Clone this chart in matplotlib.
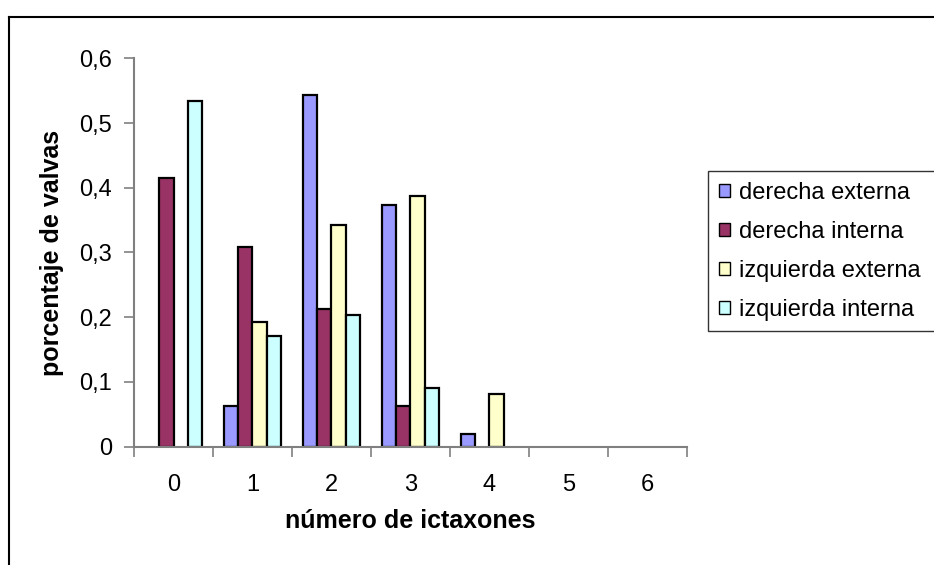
import numpy as np
import matplotlib
matplotlib.use("Agg")
import matplotlib.pyplot as plt
from matplotlib.lines import Line2D
from matplotlib.ticker import FixedLocator, FuncFormatter

plt.rcParams['font.family'] = ['Liberation Sans', 'DejaVu Sans']

categorias = ['0', '1', '2', '3', '4', '5', '6']
series = ['derecha externa', 'derecha interna', 'izquierda externa', 'izquierda interna']
derecha_externa = [0.0, 0.063, 0.544, 0.373, 0.020, 0.0, 0.0]
derecha_interna = [0.415, 0.309, 0.213, 0.063, 0.0, 0.0, 0.0]
izquierda_externa = [0.0, 0.192, 0.343, 0.388, 0.081, 0.0, 0.0]
izquierda_interna = [0.534, 0.171, 0.204, 0.090, 0.0, 0.0, 0.0]
colores = ['#9999FF', '#993366', '#FFFFCC', '#CCFFFF']

valores = [derecha_externa, derecha_interna, izquierda_externa, izquierda_interna]

fig = plt.figure(figsize=(9.34, 5.65), dpi=100)
ax = fig.add_axes([0.1435, 0.2094, 0.5917, 0.6874])

x = np.arange(len(categorias))
ancho = 1 / 5.5
for i, (nombre, vals, c) in enumerate(zip(series, valores, colores)):
    vals = np.array(vals)
    pos = x + (i - 1.5) * ancho
    hay = vals > 0  # las barras vacias no se dibujan
    ax.bar(pos[hay], vals[hay], width=ancho, color=c, edgecolor='black', linewidth=1.6,
           label=nombre)

ax.set_xlim(-0.5, len(categorias) - 0.5)
ax.set_ylim(0, 0.6)
ax.set_yticks(np.arange(0, 0.61, 0.1))
ax.yaxis.set_major_formatter(FuncFormatter(lambda v, p: ('%g' % round(v, 1)).replace('.', ',')))
ax.set_xticks(x)
ax.set_xticklabels(categorias)
ax.xaxis.set_minor_locator(FixedLocator(np.arange(-0.5, len(categorias), 1.0)))

ax.tick_params(axis='x', which='major', length=0, pad=20, labelsize=17)
ax.tick_params(axis='x', which='minor', length=7, width=1.2, color='#808080', direction='out')
ax.tick_params(axis='y', length=7, width=1.2, color='#808080', direction='out', pad=9, labelsize=17)

for s in ['top', 'right']:
    ax.spines[s].set_visible(False)
for s in ['left', 'bottom']:
    ax.spines[s].set_color('#808080')
    ax.spines[s].set_linewidth(1.5)

ax.set_xlabel('número de ictaxones', fontsize=18, fontweight='bold', labelpad=9)
ax.set_ylabel('porcentaje de valvas', fontsize=18, fontweight='bold', labelpad=11)

leg = fig.legend(loc='upper left', bbox_to_anchor=(0.758, 0.409, 0.26, 0.288),
                 mode='expand', fontsize=17, frameon=True, fancybox=False,
                 handlelength=0.5, handleheight=0.5, handletextpad=0.35,
                 labelspacing=0.72, borderpad=0.45, borderaxespad=0)
leg.get_frame().set_edgecolor('black')
leg.get_frame().set_linewidth(1.0)
for h in leg.legend_handles:
    h.set_linewidth(1.0)

# marco exterior del grafico
fig.add_artist(Line2D([9 / 934, 9 / 934], [0, 1 - 17 / 565], color='black', lw=1.5,
                      transform=fig.transFigure))
fig.add_artist(Line2D([9 / 934, 1.0], [1 - 17 / 565, 1 - 17 / 565], color='black', lw=1.5,
                      transform=fig.transFigure))

fig.savefig('out.png', dpi=100)
